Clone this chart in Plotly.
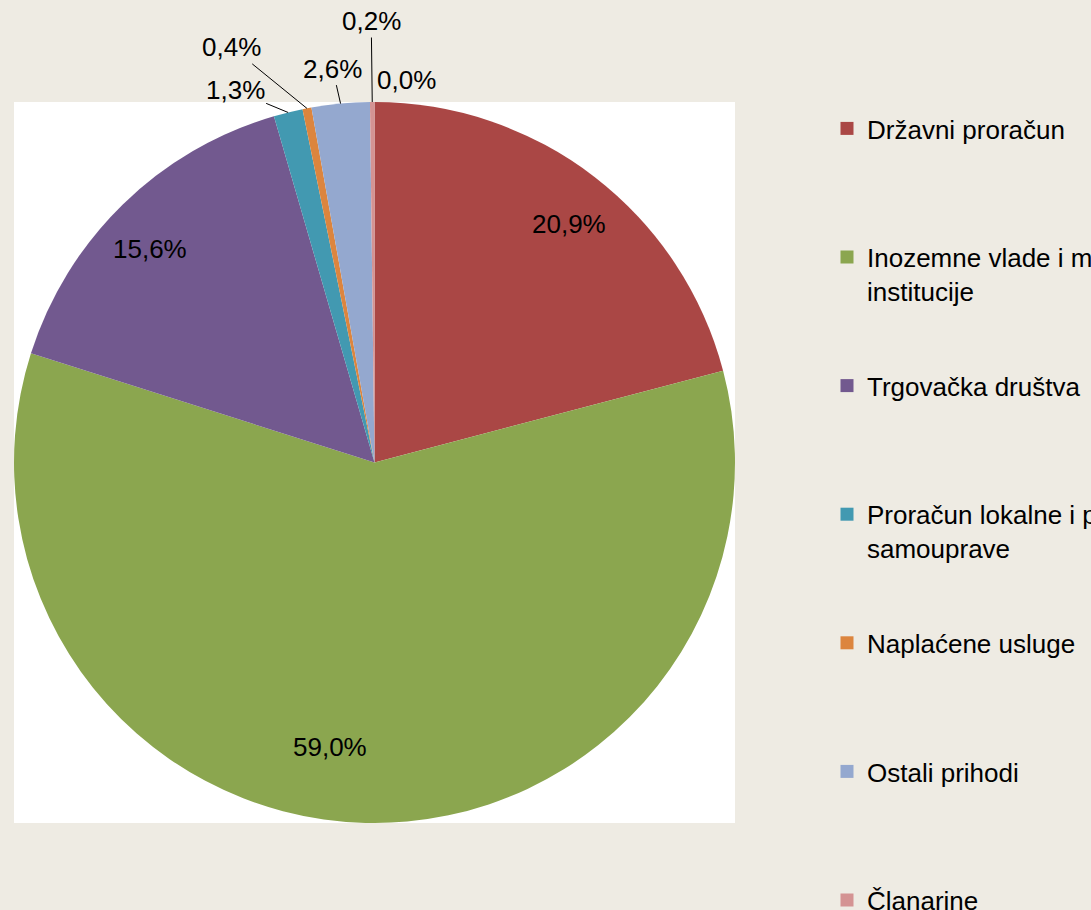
import math
import plotly.graph_objects as go

# data (shares in %)
categories = ["Državni proračun", "Inozemne vlade i međunarodne institucije", "Trgovačka društva",
              "Proračun lokalne i područne (regionalne) samouprave", "Naplaćene usluge",
              "Ostali prihodi", "Članarine", "Donacije"]
legend_names = ["Državni proračun", "Inozemne vlade i međunarodne<br>institucije", "Trgovačka društva",
                "Proračun lokalne i područne (regionalne)<br>samouprave", "Naplaćene usluge",
                "Ostali prihodi", "Članarine", "Donacije"]
shares = [20.9, 59.0, 15.6, 1.3, 0.4, 2.6, 0.2, 0.0]
colors = ["#AA4745", "#8BA64F", "#72598F", "#4299B1", "#DC853E", "#94A8CF", "#D49393", "#B5C98C"]

# label placement: inside -> (angle shift deg, radius fraction), outside -> (dx px, dy px, leader line)
label_place = [
    ("in", 1.6, 0.855),
    ("in", 7.5, 0.80),
    ("in", -2.1, 0.86),
    ("out", -53, -22, True),
    ("out", -75, -61, True),
    ("out", -8, -35, True),
    ("out", -1, -81, True),
    ("out", 32, -22, False),
]

W, H = 1091, 910
box = (14, 102, 735, 823)  # white plot area in px (left, top, right, bottom)
cx = (box[0] + box[2]) / 2
cy = (box[1] + box[3]) / 2
R = (box[2] - box[0]) / 2

font = "Arial, 'Liberation Sans', sans-serif"
lbl_font = dict(size=26, color="black", family=font)

fig = go.Figure()
fig.add_trace(go.Pie(
    labels=categories, values=shares, sort=False, direction="clockwise", rotation=0,
    marker=dict(colors=colors, line=dict(width=0)),
    textinfo="none", hoverinfo="label+percent", showlegend=False,
    domain=dict(x=[box[0] / W, box[2] / W], y=[1 - box[3] / H, 1 - box[1] / H]),
))

# legend entries (one group each so the spacing can be set)
for i, (name, c) in enumerate(zip(legend_names, colors)):
    if "<br>" not in name:
        name = name + "<br>\u00a0"
    fig.add_trace(go.Scatter(x=[None], y=[None], mode="markers", name=name, legendgroup=str(i),
                             marker=dict(symbol="square", size=13, color=c)))

# data labels
total = sum(shares)
cum = 0
for v, place in zip(shares, label_place):
    mid = (cum + v / 2) / total * 360
    cum += v
    txt = f"{v:.1f}".replace(".", ",") + "%"
    if place[0] == "in":
        a = math.radians(mid + place[1])
        px = cx + place[2] * R * math.sin(a)
        py = cy - place[2] * R * math.cos(a)
        fig.add_annotation(x=px / W, y=1 - py / H, xref="paper", yref="paper", text=txt,
                           xanchor="center", yanchor="middle", showarrow=False, font=lbl_font)
    else:
        a = math.radians(mid)
        px = cx + R * math.sin(a)
        py = cy - R * math.cos(a)
        if place[3]:
            fig.add_annotation(x=px / W, y=1 - py / H, xref="paper", yref="paper", text=txt,
                               showarrow=True, arrowhead=0, arrowwidth=1, arrowcolor="black",
                               ax=place[1], ay=place[2], standoff=0, font=lbl_font)
        else:
            fig.add_annotation(x=px / W, y=1 - py / H, xref="paper", yref="paper", text=txt,
                               xanchor="center", yanchor="middle", showarrow=False,
                               xshift=place[1], yshift=-place[2], font=lbl_font)

fig.add_shape(type="rect", xref="paper", yref="paper", layer="below",
              x0=box[0] / W, x1=box[2] / W, y0=1 - box[3] / H, y1=1 - box[1] / H,
              fillcolor="white", line=dict(width=0))

fig.update_layout(
    width=W, height=H,
    margin=dict(l=0, r=0, t=0, b=0, autoexpand=False),
    paper_bgcolor="#EEEBE3", plot_bgcolor="rgba(0,0,0,0)",
    xaxis=dict(visible=False), yaxis=dict(visible=False),
    legend=dict(x=827 / W, y=1 - 105 / H, xanchor="left", yanchor="top",
                font=dict(size=26, color="black", family=font),
                valign="top", traceorder="grouped", tracegroupgap=58,
                maxheight=1400, bgcolor="rgba(0,0,0,0)"),
)

fig.write_html("out.html", config={"displayModeBar": False},
               post_script="document.body.style.margin='0';document.body.style.background='#EEEBE3';")
